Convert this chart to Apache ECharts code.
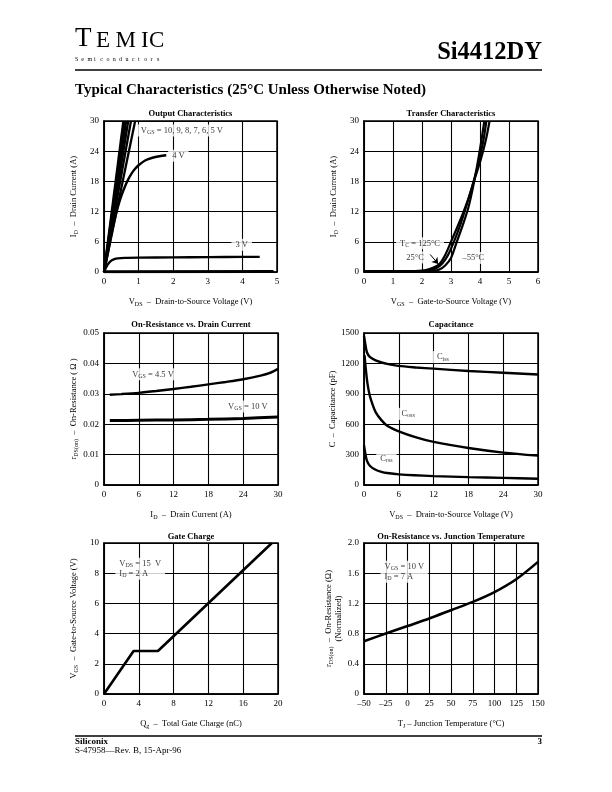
<!DOCTYPE html>
<html>
<head>
<meta charset="utf-8">
<script src="https://cdn.jsdelivr.net/npm/echarts@6/dist/echarts.min.js"></script>
<style>
html,body{margin:0;padding:0;background:#fff}
#main{width:612px;height:792px}
</style>
</head>
<body>
<div id="main"></div>
<script>
// ---- data ----
// Output characteristics: ID (A) vs VDS (V)
var outVgs10 = [[0,0],[0.56,30]];
var outVgs9 = [[0,0],[0.60,30]];
var outVgs8 = [[0,0],[0.64,30]];
var outVgs7 = [[0,0],[0.70,30]];
var outVgs6 = [[0,0],[0.78,30]];
var outVgs5 = [[0,0],[0.90,30]];
var outVgs4 = [[0,0],[0.1,3.4],[0.2,7],[0.3,10.2],[0.4,12.9],[0.5,15.1],[0.6,16.9],[0.7,18.4],[0.8,19.6],[0.9,20.5],[1.0,21.2],[1.2,22.2],[1.4,22.7],[1.6,23.0],[1.8,23.2]];
var outVgs3 = [[0,0],[0.1,1.4],[0.2,2.2],[0.3,2.55],[0.4,2.7],[0.6,2.8],[1,2.85],[2,2.9],[3,2.95],[4,3.0],[4.5,3.0]];
var outVgs2 = [[0,0.05],[4.9,0.1]];

// Transfer characteristics: ID (A) vs VGS (V)
var xfer125 = [[0,0.2],[0.5,0.2],[1,0.2],[1.5,0.2],[2.0,0.3],[2.2,0.5],[2.4,0.9],[2.6,1.6],[2.8,3.4],[3.0,6.0],[3.2,8.7],[3.4,11.5],[3.6,14.6],[3.8,18.2],[4.0,21.8],[4.2,26.2],[4.33,30]];
var xfer25 = [[0,0.15],[0.5,0.15],[1,0.15],[1.5,0.15],[2.0,0.2],[2.3,0.4],[2.5,0.8],[2.7,1.7],[2.9,3.4],[3.1,6.0],[3.3,9.0],[3.5,12.6],[3.7,16.4],[3.9,20.6],[4.1,25.6],[4.22,30]];
var xferM55 = [[0,0.1],[0.5,0.1],[1,0.1],[1.5,0.1],[2.0,0.1],[2.4,0.2],[2.6,0.5],[2.8,1.3],[3.0,2.8],[3.2,6.0],[3.4,9.2],[3.6,12.8],[3.8,18.0],[4.0,24.4],[4.15,30]];

// On-resistance vs drain current: rDS(on) (ohm) vs ID (A)
var ronId45 = [[1,0.0297],[3,0.0299],[6,0.0303],[9,0.0309],[12,0.0316],[15,0.0323],[18,0.0331],[21,0.0339],[24,0.0348],[27,0.0360],[28.5,0.0368],[30,0.0382]];
var ronId10 = [[1,0.0212],[6,0.0213],[12,0.0214],[18,0.0216],[24,0.0219],[30,0.0224]];

// Capacitance (pF) vs VDS (V)
var capCiss = [[0,1470],[0.2,1400],[0.5,1310],[1,1265],[2,1230],[3,1210],[4,1195],[6,1175],[9,1160],[12,1148],[18,1125],[24,1108],[30,1090]];
var capCoss = [[0.1,1280],[0.3,1150],[0.6,1000],[1,880],[1.5,790],[2,720],[3,640],[4,585],[6,530],[9,470],[12,425],[18,365],[24,320],[30,290]];
var capCrss = [[0,390],[0.2,320],[0.5,240],[1,190],[2,150],[3,130],[4,118],[6,105],[12,88],[18,78],[24,70],[30,62]];

// Gate charge: VGS (V) vs Qg (nC)
var gateQ = [[0,0],[3.4,2.85],[6.2,2.85],[19.3,10]];

// On-resistance vs junction temperature (normalized)
var tempC = [-50,-25,0,25,50,75,100,125,150];
var ronNorm = [0.70,0.80,0.90,1.00,1.11,1.22,1.35,1.52,1.75];

// ---- styling / layout ----
var FONT = '"Liberation Serif", "Times New Roman", serif';
var rich = {
  t: {fontFamily: FONT, fontSize: 8.5, color: '#000'},
  s: {fontFamily: FONT, fontSize: 6, color: '#000', padding: [4, 0, 0, 0]}
};

var grids = [
  {left: 104, top: 121, width: 173, height: 151},
  {left: 364, top: 121, width: 174, height: 151},
  {left: 104, top: 333, width: 174, height: 152},
  {left: 364, top: 333, width: 174, height: 152},
  {left: 104, top: 543, width: 174, height: 151},
  {left: 364, top: 543, width: 174, height: 151}
].map(function (g) {
  return Object.assign({show: true, borderColor: '#000', borderWidth: 1.5, containLabel: false}, g);
});

var plain = function (v) { return String(v); };

function axis(i, min, max, interval, name, gap, fmt) {
  return {
    type: 'value', gridIndex: i, min: min, max: max, interval: interval,
    name: name, nameLocation: 'middle', nameGap: gap,
    nameTextStyle: {fontFamily: FONT, fontSize: 8.5, color: '#000', rich: rich},
    axisLine: {show: true, onZero: false, lineStyle: {color: '#000', width: 1.5}},
    axisTick: {show: false},
    splitLine: {show: true, lineStyle: {color: '#000', width: 1.1}},
    axisLabel: {color: '#000', fontFamily: FONT, fontSize: 9, margin: 5, formatter: fmt || plain}
  };
}

var dash = function (v) { return String(v).replace('-', '\u2013'); };

var xAxes = [
  axis(0, 0, 5, 1, '{t|V}{s|DS}{t|  \u2013  Drain-to-Source Voltage (V)}', 25),
  axis(1, 0, 6, 1, '{t|V}{s|GS}{t|  \u2013  Gate-to-Source Voltage (V)}', 25),
  axis(2, 0, 30, 6, '{t|I}{s|D}{t|  \u2013  Drain Current (A)}', 25),
  axis(3, 0, 30, 6, '{t|V}{s|DS}{t|  \u2013  Drain-to-Source Voltage (V)}', 25),
  axis(4, 0, 20, 4, '{t|Q}{s|g}{t|  \u2013  Total Gate Charge (nC)}', 25),
  axis(5, -50, 150, 25, '{t|T}{s|J}{t| \u2013 Junction Temperature (\u00b0C)}', 25, dash)
];
var yAxes = [
  axis(0, 0, 30, 6, '{t|I}{s|D}{t|  \u2013  Drain Current (A)}', 25),
  axis(1, 0, 30, 6, '{t|I}{s|D}{t|  \u2013  Drain Current (A)}', 25),
  axis(2, 0, 0.05, 0.01, '{t|r}{s|DS(on)}{t|  \u2013  On-Resistance ( \u03a9 )}', 25,
       function (v) { return v === 0 ? '0' : v.toFixed(2); }),
  axis(3, 0, 1500, 300, '{t|C  \u2013  Capacitance (pF)}', 25),
  axis(4, 0, 10, 2, '{t|V}{s|GS}{t|  \u2013  Gate-to-Source Voltage (V)}', 25),
  axis(5, 0, 2, 0.4, '{t|r}{s|DS(on)}{t|  \u2013  On-Resistance (\u03a9)}\n{t|(Normalized)}', 21,
       function (v) { return v === 0 ? '0' : v.toFixed(1); })
];

function curve(i, data, width, smooth) {
  return {
    type: 'line', xAxisIndex: i, yAxisIndex: i, data: data, showSymbol: false,
    smooth: smooth ? 0.3 : false, clip: true, z: 3,
    lineStyle: {color: '#000', width: width || 2.4}
  };
}

function notes(i, items, extra) {
  return Object.assign({
    type: 'scatter', xAxisIndex: i, yAxisIndex: i, symbolSize: 0, z: 6, silent: true,
    label: {show: true, color: '#000', fontFamily: FONT, fontSize: 8.5, backgroundColor: '#fff',
            padding: [1, 4, 1, 4], lineHeight: 10, rich: rich},
    data: items.map(function (n) {
      return {value: [n.x, n.y], label: {position: n.pos || 'inside', distance: 0, formatter: n.text, align: n.align}};
    })
  }, extra || {});
}

var series = [
  curve(0, outVgs10, 2.3), curve(0, outVgs9, 2.3), curve(0, outVgs8, 2.3),
  curve(0, outVgs7, 2.3), curve(0, outVgs6, 2.3), curve(0, outVgs5, 2.3),
  curve(0, outVgs4, 2.4, true), curve(0, outVgs3, 2.4, true), curve(0, outVgs2, 3),
  notes(0, [
    {x: 2.25, y: 28.1, text: '{t|V}{s|GS}{t| = 10, 9, 8, 7, 6, 5 V}'},
    {x: 2.15, y: 23.1, text: '{t|4 V}'},
    {x: 3.98, y: 5.4, text: '{t|3 V}'}
  ]),
  curve(1, xfer125, 2.2, true), curve(1, xfer25, 2.2, true), curve(1, xferM55, 2.2, true),
  notes(1, [
    {x: 1.93, y: 5.7, text: '{t|T}{s|C}{t| = 125\u00b0C}'},
    {x: 1.76, y: 2.9, text: '{t|25\u00b0C}'},
    {x: 3.77, y: 2.8, text: '{t|\u201355\u00b0C}'}
  ], {
    markLine: {
      silent: true, symbol: ['none', 'arrow'], symbolSize: 6, label: {show: false},
      lineStyle: {color: '#000', width: 1, type: 'solid'},
      data: [[{coord: [2.28, 3.5]}, {coord: [2.56, 1.6]}]]
    }
  }),
  curve(2, ronId45, 2.4, true), curve(2, ronId10, 3, true),
  notes(2, [
    {x: 8.45, y: 0.0364, text: '{t|V}{s|GS}{t| = 4.5 V}'},
    {x: 24.8, y: 0.0258, text: '{t|V}{s|GS}{t| = 10 V}'}
  ]),
  curve(3, capCiss, 2.4, true), curve(3, capCoss, 2.4, true), curve(3, capCrss, 2.4, true),
  notes(3, [
    {x: 13.6, y: 1262, text: '{t|C}{s|iss}'},
    {x: 7.6, y: 702, text: '{t|C}{s|oss}'},
    {x: 3.86, y: 262, text: '{t|C}{s|rss}'}
  ]),
  curve(4, gateQ, 2.6, false),
  notes(4, [
    {x: 1.3, y: 8.3, pos: 'right', align: 'left', text: '{t|V}{s|DS}{t| = 15  V}\n{t|I}{s|D}{t| = 2 A}'}
  ]),
  curve(5, tempC.map(function (t, k) { return [t, ronNorm[k]]; }), 2.6, true),
  notes(5, [
    {x: -31, y: 1.62, pos: 'right', align: 'left', text: '{t|V}{s|GS}{t| = 10 V}\n{t|I}{s|D}{t| = 7 A}'}
  ])
];

// chart titles, page header and footer
var titles = [
  ['Output Characteristics', 190.5, 113.5],
  ['Transfer Characteristics', 451, 113.5],
  ['On-Resistance vs. Drain Current', 191, 324.5],
  ['Capacitance', 451, 324.5],
  ['Gate Charge', 191, 536.5],
  ['On-Resistance vs. Junction Temperature', 451, 536.5]
];
var graphic = titles.map(function (t) {
  return {type: 'text', x: t[1], y: t[2], silent: true,
          style: {text: t[0], fill: '#000', font: 'bold 8.5px ' + FONT, align: 'center', verticalAlign: 'middle'}};
});

function txt(s, x, y, font, align) {
  return {type: 'text', x: x, y: y, silent: true,
          style: {text: s, fill: '#000', font: font, align: align || 'left', verticalAlign: 'middle'}};
}
function hline(x1, x2, y, w) {
  return {type: 'line', silent: true, shape: {x1: x1, y1: y, x2: x2, y2: y}, style: {stroke: '#000', lineWidth: w}};
}

graphic.push(txt('T', 75, 39, '27px ' + FONT));
[['E', 96], ['M', 115.5], ['I', 141], ['C', 149]].forEach(function (l) {
  graphic.push(txt(l[0], l[1], 41, '23px ' + FONT));
});
'Semiconductors'.split('').forEach(function (c, k) {
  graphic.push(txt(c, 75 + k * 6.3, 59.5, '6px ' + FONT));
});
graphic.push(txt('Si4412DY', 542, 53, 'bold 24.5px ' + FONT, 'right'));
graphic.push(hline(75, 542, 70, 1.3));
graphic.push(txt('Typical Characteristics (25\u00b0C Unless Otherwise Noted)', 75, 90.5, 'bold 15px ' + FONT));
graphic.push(hline(75, 542, 736, 1.3));
graphic.push(txt('Siliconix', 75, 742, 'bold 9px ' + FONT));
graphic.push(txt('3', 542, 742, 'bold 9px ' + FONT, 'right'));
graphic.push(txt('S-47958\u2014Rev. B, 15-Apr-96', 75, 750.5, '9px ' + FONT));

var chart = echarts.init(document.getElementById('main'), null, {renderer: 'canvas'});
chart.setOption({
  animation: false,
  backgroundColor: '#fff',
  textStyle: {fontFamily: FONT},
  grid: grids,
  xAxis: xAxes,
  yAxis: yAxes,
  series: series,
  graphic: graphic
});
</script>
</body>
</html>
